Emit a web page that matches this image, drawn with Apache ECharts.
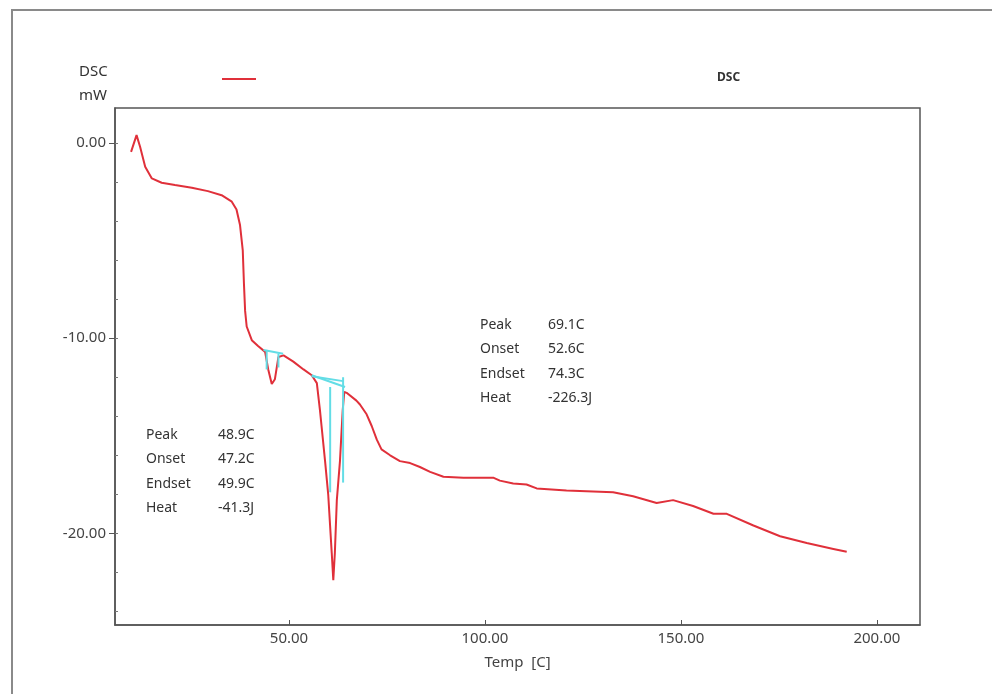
<!DOCTYPE html>
<html>
<head>
<meta charset="utf-8">
<script src="https://cdn.jsdelivr.net/npm/echarts@6/dist/echarts.min.js"></script>
<style>html,body{margin:0;padding:0;background:#fff}#c{width:992px;height:694px}</style>
</head>
<body>
<div id="c"></div>
<script>
// Temperature (C) and DSC signal (mW)
var temps = [9.7, 11.1, 12.0, 13.3, 15.0, 17.5, 20.9, 25.2, 29.3, 32.8, 35.4, 36.6, 37.5, 38.2, 38.5, 38.8, 39.2, 40.5, 42.1, 43.9, 44.7, 45.6, 46.4, 47.3, 48.6, 51.1, 53.7, 55.8, 57.1, 57.9, 58.3, 59.2, 60.0, 60.9, 61.3, 61.7, 62.2, 63.0, 63.7, 64.1, 64.7, 67.2, 68.1, 69.8, 71.1, 72.4, 73.6, 75.8, 78.3, 80.9, 83.4, 86.0, 89.4, 94.5, 102.1, 103.8, 107.2, 110.6, 113.2, 120.8, 132.7, 137.8, 143.8, 148.0, 153.1, 158.3, 161.7, 168.5, 175.3, 182.1, 188.9, 192.3];
var dscValues = [-0.45, 0.41, -0.19, -1.21, -1.81, -2.03, -2.15, -2.29, -2.46, -2.67, -3.0, -3.4, -4.2, -5.5, -7.2, -8.6, -9.4, -10.1, -10.4, -10.7, -11.6, -12.35, -12.1, -10.96, -10.88, -11.2, -11.6, -11.9, -12.3, -13.7, -14.5, -16.3, -18.0, -21.0, -22.4, -21.0, -18.3, -16.3, -13.7, -12.75, -12.8, -13.2, -13.4, -13.9, -14.5, -15.2, -15.7, -16.0, -16.3, -16.4, -16.6, -16.85, -17.1, -17.15, -17.15, -17.3, -17.45, -17.5, -17.7, -17.8, -17.9, -18.1, -18.45, -18.3, -18.6, -19.0, -19.0, -19.6, -20.15, -20.5, -20.8, -20.95];

// integration baseline markers (cyan), each as [temp, dsc] pairs
var peak1Baseline = [[43.5, -10.6], [48.5, -10.8]];
var peak1Left = [[44.3, -10.6], [44.3, -11.6]];
var peak1Right = [[47.3, -10.8], [47.3, -11.5]];
var peak2BaselineA = [[55.8, -11.9], [64.3, -12.5]];
var peak2BaselineB = [[55.8, -11.95], [63.8, -12.2]];
var peak2Left = [[60.5, -12.5], [60.5, -17.9]];
var peak2Right = [[63.8, -12.0], [63.8, -17.4]];

var xTicks = [50, 100, 150, 200];
var yLabelTicks = [0, -10, -20];
var yMinorTicks = [-24, -22, -20, -18, -16, -14, -12, -10, -8, -6, -4, -2, 0];

var peak1Text = [['Peak', '48.9C'], ['Onset', '47.2C'], ['Endset', '49.9C'], ['Heat', '-41.3J']];
var peak2Text = [['Peak', '69.1C'], ['Onset', '52.6C'], ['Endset', '74.3C'], ['Heat', '-226.3J']];

var chart = echarts.init(document.getElementById('c'));
var FONT = 'Noto Sans';
var xMin = 5.6, xMax = 211, yMin = -24.7, yMax = 1.8;

function pairs(xs, ys) { return xs.map(function (x, i) { return [x, ys[i]]; }); }

function annot(lines, x0, x1, y0) {
  var out = [];
  lines.forEach(function (l, i) {
    out.push({type: 'text', left: x0, top: y0 + i * 24.5, style: {text: l[0], font: '14px "' + FONT + '"', fill: '#333'}});
    out.push({type: 'text', left: x1, top: y0 + i * 24.5, style: {text: l[1], font: '14px "' + FONT + '"', fill: '#333'}});
  });
  return out;
}

var cyanStyle = {color: '#63dde6', width: 2};
function cyanSeries(d) {
  return {type: 'line', data: d, symbol: 'none', lineStyle: cyanStyle, silent: true, z: 3, animation: false};
}

var graphics = [
  {type: 'rect', shape: {x: 12, y: 10, width: 1000, height: 700}, style: {fill: 'none', stroke: '#8a8a8a', lineWidth: 2}},
  {type: 'text', left: 79, top: 64, style: {text: 'DSC', font: '15px "' + FONT + '"', fill: '#333'}},
  {type: 'text', left: 79, top: 88, style: {text: 'mW', font: '15px "' + FONT + '"', fill: '#333'}},
  {type: 'line', shape: {x1: 222, y1: 79, x2: 256, y2: 79}, style: {stroke: '#e0303a', lineWidth: 2}},
  {type: 'text', left: 717, top: 72, style: {text: 'DSC', font: 'bold 12px "' + FONT + '"', fill: '#333'}}
].concat(annot(peak1Text, 146, 218, 428)).concat(annot(peak2Text, 480, 548, 318));

var option = {
  backgroundColor: '#fff',
  animation: false,
  grid: {left: 115, top: 108, width: 805, height: 517, show: true, borderColor: '#555', borderWidth: 1.5},
  xAxis: {
    type: 'value', min: xMin, max: xMax,
    name: 'Temp  [C]', nameLocation: 'middle', nameGap: 30,
    nameTextStyle: {fontFamily: FONT, fontSize: 15, color: '#444'},
    axisLine: {show: true, onZero: false, lineStyle: {color: '#555', width: 1.5}},
    axisTick: {show: true, inside: true, length: 5, customValues: xTicks, lineStyle: {color: '#555'}},
    axisLabel: {customValues: xTicks, margin: 6, fontFamily: FONT, fontSize: 15, color: '#444',
      formatter: function (v) { return v.toFixed(2); }},
    splitLine: {show: false}
  },
  yAxis: [{
    type: 'value', min: yMin, max: yMax,
    axisLine: {show: true, onZero: false, lineStyle: {color: '#555', width: 1.5}},
    axisTick: {show: true, inside: false, length: 6, customValues: yLabelTicks, lineStyle: {color: '#555'}},
    axisLabel: {customValues: yLabelTicks, margin: 9, fontFamily: FONT, fontSize: 15, color: '#444',
      formatter: function (v) { return v.toFixed(2); }},
    splitLine: {show: false}
  }, {
    type: 'value', min: yMin, max: yMax, position: 'left',
    axisLine: {show: false, onZero: false},
    axisTick: {show: true, inside: true, length: 3, customValues: yMinorTicks, lineStyle: {color: '#777'}},
    axisLabel: {show: false},
    splitLine: {show: false}
  }],
  series: [
    {type: 'line', name: 'DSC', data: pairs(temps, dscValues), symbol: 'none', z: 2,
      lineStyle: {color: '#e0303a', width: 2}},
    cyanSeries(peak1Baseline), cyanSeries(peak1Left), cyanSeries(peak1Right),
    cyanSeries(peak2BaselineA), cyanSeries(peak2BaselineB), cyanSeries(peak2Left), cyanSeries(peak2Right)
  ],
  graphic: graphics
};
chart.setOption(option);
</script>
</body>
</html>
